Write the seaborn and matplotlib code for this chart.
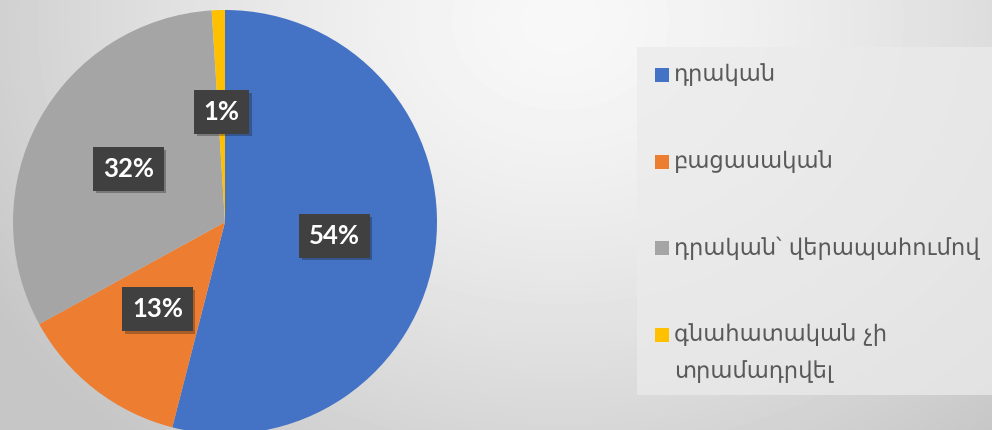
import numpy as np
import matplotlib
matplotlib.use("Agg")
import matplotlib.pyplot as plt
import matplotlib.patheffects as pe
from matplotlib.patches import Rectangle
import seaborn as sns

# Data
labels = ["դրական", "բացասական", "դրական՝ վերապահումով", "գնահատական չի\nտրամադրվել"]
values = [54, 13, 32, 1]
colors = ["#4472C4", "#ED7D31", "#A5A5A5", "#FFC000"]

sns.set_style("white")
plt.rcParams["font.family"] = ["DejaVu Sans"]

W, H = 992, 430
fig = plt.figure(figsize=(W / 100, H / 100), dpi=100)

# background: soft radial gradient, light near the top middle
bg = fig.add_axes([0, 0, 1, 1], zorder=0)
yy, xx = np.mgrid[0:H, 0:W]
dist = np.sqrt(((xx - 560) / 1.15) ** 2 + ((yy - 20) / 0.95) ** 2)
shade = np.clip(248 - 48 * (dist / 560) ** 1.4, 198, 255) / 255.0
bg.imshow(shade, cmap="gray", vmin=0, vmax=1, aspect="auto", interpolation="bilinear")
bg.axis("off")

# legend panel (slightly lighter box)
fig.patches.append(Rectangle((637 / W, 1 - 395 / H), (W - 637) / W, (395 - 47) / H,
                             transform=fig.transFigure, facecolor="#ebebeb",
                             edgecolor="none", alpha=0.75, zorder=1))

# pie
ax = fig.add_axes([13 / W, (208 - 212) / H, 424 / W, 424 / H], zorder=2)
pal = sns.color_palette(colors)
wedges, texts, autotexts = ax.pie(values, colors=pal, startangle=90, counterclock=False,
                                  autopct="%1.0f%%", pctdistance=0.52,
                                  wedgeprops=dict(linewidth=0))
ax.set_xlim(-1, 1)
ax.set_ylim(-1, 1)
ax.axis("off")

for t in autotexts:
    t.set_color("white")
    t.set_fontfamily(["Lato", "DejaVu Sans"])
    t.set_fontweight("bold")
    t.set_fontsize(18.5)
    t.set_bbox(dict(boxstyle="square,pad=0.38", facecolor="#404040", edgecolor="none"))
    t.get_bbox_patch().set_path_effects([pe.SimplePatchShadow(offset=(2, -2), alpha=0.3),
                                         pe.Normal()])

# legend drawn by hand so the 2-line entry keeps its square on the first line
y0, step, line_h = 75, 86.5, 37
for i, (lab, col) in enumerate(zip(labels, colors)):
    py = y0 + i * step
    fig.patches.append(Rectangle((655 / W, 1 - (py + 7) / H), 14 / W, 14 / H,
                                 transform=fig.transFigure, facecolor=col,
                                 edgecolor="none", zorder=3))
    for k, line in enumerate(lab.split("\n")):
        fig.text(674 / W, 1 - (py + k * line_h) / H, line, fontsize=16.3,
                 color="#595959", va="center", ha="left", zorder=4)

fig.savefig("out.png", dpi=100)
